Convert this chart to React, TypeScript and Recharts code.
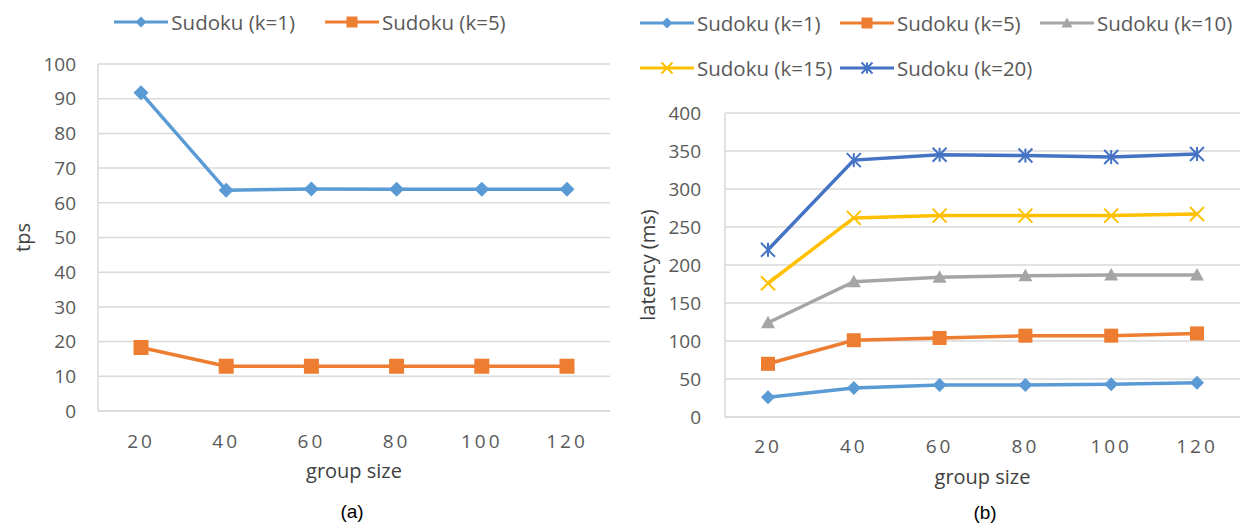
import React from 'react';
import { LineChart, Line, XAxis, YAxis, CartesianGrid, Legend } from 'recharts';

// ---------- data ----------
const groupSizes = ['20', '40', '60', '80', '100', '120'];

const tpsK1 = [91.7, 63.6, 64.0, 63.9, 63.9, 63.9];
const tpsK5 = [18.3, 12.9, 12.9, 12.9, 12.9, 12.9];

const latK1 = [26, 38, 42, 42, 43, 45];
const latK5 = [70, 101, 104, 107, 107, 110];
const latK10 = [124, 178, 184, 186, 187, 187];
const latK15 = [176, 262, 265, 265, 265, 267];
const latK20 = [220, 338, 345, 344, 342, 346];

const tpsTicks = [0, 10, 20, 30, 40, 50, 60, 70, 80, 90, 100];
const latTicks = [0, 50, 100, 150, 200, 250, 300, 350, 400];

const tpsData = groupSizes.map((g, i) => ({ g, k1: tpsK1[i], k5: tpsK5[i] }));
const latData = groupSizes.map((g, i) => ({
  g,
  k1: latK1[i],
  k5: latK5[i],
  k10: latK10[i],
  k15: latK15[i],
  k20: latK20[i],
}));

type Shape = 'diamond' | 'square' | 'triangle' | 'x' | 'star';
interface Series { key: string; name: string; color: string; shape: Shape }

const tpsSeries: Series[] = [
  { key: 'k1', name: 'Sudoku (k=1)', color: '#5B9BD5', shape: 'diamond' },
  { key: 'k5', name: 'Sudoku (k=5)', color: '#ED7D31', shape: 'square' },
];
const latSeries: Series[] = [
  { key: 'k1', name: 'Sudoku (k=1)', color: '#5B9BD5', shape: 'diamond' },
  { key: 'k5', name: 'Sudoku (k=5)', color: '#ED7D31', shape: 'square' },
  { key: 'k10', name: 'Sudoku (k=10)', color: '#A5A5A5', shape: 'triangle' },
  { key: 'k15', name: 'Sudoku (k=15)', color: '#FFC000', shape: 'x' },
  { key: 'k20', name: 'Sudoku (k=20)', color: '#4472C4', shape: 'star' },
];

const FONT = '"Open Sans", "Noto Sans", sans-serif';
const TEXT = '#595959';
const GRID = '#d9d9d9';

function Marker({ cx, cy, shape, color, size }: { cx: number; cy: number; shape: Shape; color: string; size: number }) {
  const s = size / 2;
  switch (shape) {
    case 'diamond':
      return <polygon points={`${cx},${cy - s} ${cx + s},${cy} ${cx},${cy + s} ${cx - s},${cy}`} fill={color} />;
    case 'square':
      return <rect x={cx - s} y={cy - s} width={size} height={size} fill={color} />;
    case 'triangle':
      return <polygon points={`${cx},${cy - s} ${cx + s},${cy + s * 0.8} ${cx - s},${cy + s * 0.8}`} fill={color} />;
    case 'x':
      return (
        <g stroke={color} strokeWidth={2}>
          <line x1={cx - s} y1={cy - s} x2={cx + s} y2={cy + s} />
          <line x1={cx - s} y1={cy + s} x2={cx + s} y2={cy - s} />
        </g>
      );
    case 'star':
    default:
      return (
        <g stroke={color} strokeWidth={2}>
          <line x1={cx - s} y1={cy - s} x2={cx + s} y2={cy + s} />
          <line x1={cx - s} y1={cy + s} x2={cx + s} y2={cy - s} />
          <line x1={cx} y1={cy - s} x2={cx} y2={cy + s} />
        </g>
      );
  }
}

function makeDot(s: Series, size: number) {
  return (props: any) => {
    const { cx, cy, index } = props;
    if (cx == null || cy == null) return <g key={`${s.key}-${index}`} />;
    return (
      <g key={`${s.key}-${index}`}>
        <Marker cx={cx} cy={cy} shape={s.shape} color={s.color} size={size} />
      </g>
    );
  };
}

function LegendItem({ s }: { s: Series }) {
  return (
    <div style={{ display: 'flex', alignItems: 'center', height: 40 }}>
      <svg width={54} height={20} style={{ display: 'block', flex: 'none' }}>
        <line x1={0} y1={10} x2={54} y2={10} stroke={s.color} strokeWidth={3} />
        <Marker cx={27} cy={10} shape={s.shape} color={s.color} size={11} />
      </svg>
      <span style={{ marginLeft: 3, fontFamily: FONT, fontSize: 20.5, color: TEXT, whiteSpace: 'nowrap' }}>{s.name}</span>
    </div>
  );
}

const tickStyle = { fill: TEXT, fontSize: 19, fontFamily: FONT };
const xTickStyle = { fill: TEXT, fontSize: 19, fontFamily: FONT, letterSpacing: 3 };

function XTitle(props: any) {
  const vb = props.viewBox;
  return (
    <text x={vb.x + vb.width / 2} y={vb.y + 67} textAnchor="middle" fill="#404040" fontSize={20} fontFamily={FONT}>
      group size
    </text>
  );
}

function YTitle(text: string, dx: number, dy: number) {
  return (props: any) => {
    const vb = props.viewBox;
    const x = vb.x + dx;
    const y = vb.y + vb.height / 2 + dy;
    return (
      <text
        x={x}
        y={y}
        textAnchor="middle"
        dominantBaseline="central"
        transform={`rotate(-90, ${x}, ${y})`}
        fill="#404040"
        fontSize={20}
        fontFamily={FONT}
      >
        {text}
      </text>
    );
  };
}

export default function App() {
  return (
    <div style={{ position: 'absolute', left: 0, top: 0, width: 1240, height: 529, background: '#fff', overflow: 'hidden' }}>
      {/* (a) throughput */}
      <div style={{ position: 'absolute', left: 0, top: 0 }}>
        <LineChart width={620} height={529} data={tpsData} margin={{ top: 24, right: 10, left: 0, bottom: 88 }}>
          <CartesianGrid vertical={false} stroke={GRID} strokeWidth={1.5} />
          <Legend
            verticalAlign="top"
            wrapperStyle={{ top: 0, left: 0, width: 620, height: 40 }}
            content={() => (
              <div style={{ display: 'flex', justifyContent: 'center', gap: 30, height: 40, paddingTop: 2, boxSizing: 'border-box' }}>
                {tpsSeries.map((s) => (
                  <LegendItem key={s.key} s={s} />
                ))}
              </div>
            )}
          />
          <XAxis
            dataKey="g"
            tickLine={false}
            tickSize={0}
            tickMargin={24}
            padding={{ left: 43, right: 43 }}
            axisLine={{ stroke: GRID, strokeWidth: 1.5 }}
            tick={xTickStyle}
            label={{ content: XTitle }}
          />
          <YAxis
            width={98}
            domain={[0, 100]}
            ticks={tpsTicks}
            interval={0}
            tickLine={false}
            tickSize={0}
            tickMargin={22}
            axisLine={{ stroke: GRID, strokeWidth: 1.5 }}
            tick={tickStyle}
            label={{ content: YTitle('tps', 22, 0) }}
          />
          {tpsSeries.map((s) => (
            <Line
              key={s.key}
              dataKey={s.key}
              name={s.name}
              stroke={s.color}
              strokeWidth={3.5}
              dot={makeDot(s, 15)}
              activeDot={false}
              isAnimationActive={false}
            />
          ))}
        </LineChart>
      </div>

      {/* (b) latency */}
      <div style={{ position: 'absolute', left: 620, top: 0 }}>
        <LineChart width={620} height={529} data={latData} margin={{ top: 23, right: 0, left: 0, bottom: 82 }}>
          <CartesianGrid vertical={false} stroke={GRID} strokeWidth={1.5} />
          <Legend
            verticalAlign="top"
            wrapperStyle={{ top: 0, left: 0, width: 620, height: 90 }}
            content={() => (
              <div
                style={{
                  display: 'grid',
                  gridTemplateColumns: '200px 200px 200px',
                  paddingLeft: 20,
                  paddingTop: 3,
                  rowGap: 3,
                  height: 90,
                  width: 620,
                  boxSizing: 'border-box',
                }}
              >
                {latSeries.map((s) => (
                  <LegendItem key={s.key} s={s} />
                ))}
              </div>
            )}
          />
          <XAxis
            dataKey="g"
            tickLine={false}
            tickSize={0}
            tickMargin={23}
            padding={{ left: 43, right: 43 }}
            axisLine={{ stroke: GRID, strokeWidth: 1.5 }}
            tick={xTickStyle}
            label={{ content: XTitle }}
          />
          <YAxis
            width={105}
            domain={[0, 400]}
            ticks={latTicks}
            interval={0}
            tickLine={false}
            tickSize={0}
            tickMargin={24}
            axisLine={{ stroke: GRID, strokeWidth: 1.5 }}
            tick={tickStyle}
            label={{ content: YTitle('latency (ms)', 27, 0) }}
          />
          {latSeries.map((s) => (
            <Line
              key={s.key}
              dataKey={s.key}
              name={s.name}
              stroke={s.color}
              strokeWidth={3.5}
              dot={makeDot(s, 14)}
              activeDot={false}
              isAnimationActive={false}
            />
          ))}
        </LineChart>
      </div>

      <div style={{ position: 'absolute', left: 302, width: 100, top: 501, textAlign: 'center', fontFamily: '"Liberation Sans", Arial, sans-serif', fontSize: 19, color: '#000' }}>(a)</div>
      <div style={{ position: 'absolute', left: 935, width: 100, top: 502, textAlign: 'center', fontFamily: '"Liberation Sans", Arial, sans-serif', fontSize: 19, color: '#000' }}>(b)</div>
    </div>
  );
}
